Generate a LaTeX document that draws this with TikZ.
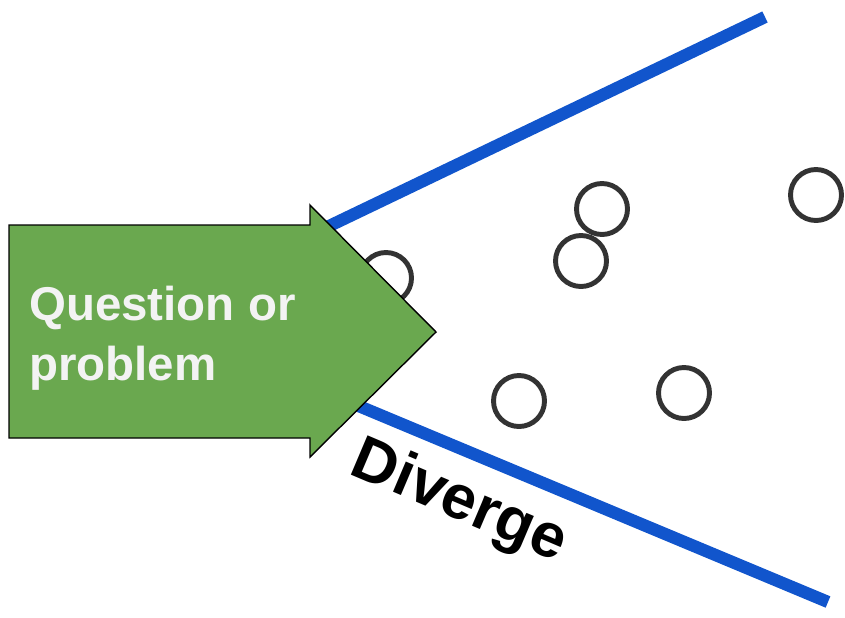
\documentclass[tikz,border=0pt]{standalone}
\usepackage{fontspec}
\setmainfont{Liberation Sans}
\usetikzlibrary{positioning}
\definecolor{ideagreen}{HTML}{6AA84F}
\definecolor{lineblue}{HTML}{1155CC}
\definecolor{ringgray}{HTML}{333333}
\definecolor{textwhite}{HTML}{F3F3F3}

\begin{document}
\begin{tikzpicture}[x=0.03cm, y=-0.03cm,
    idea/.style={circle, draw=ringgray, line width=4.2pt, minimum size=1.53cm, inner sep=0pt},
    edge/.style={lineblue, line width=10.5pt}]
  \useasboundingbox (0,0) rectangle (845,617);

  % the two diverging lines, starting behind the arrow
  \coordinate (upA) at (300,240);
  \coordinate (upB) at (765,17);
  \coordinate (loA) at (330,394);
  \coordinate (loB) at (828,602);
  \draw[edge] (upA) -- (upB);
  \draw[edge] (loA) -- (loB);

  % scattered ideas
  \node[idea] (i1) at (386,278) {};
  \node[idea] (i2) at (602,209) {};
  \node[idea] (i3) at (581,261) {};
  \node[idea] (i4) at (816,195) {};
  \node[idea] (i5) at (519,401) {};
  \node[idea] (i6) at (684,393) {};

  % big arrow
  \draw[fill=ideagreen, line width=1.2pt, line join=miter]
    (9,225) -- (310,225) -- (310,205) -- (436,332) -- (310,457) -- (310,438) -- (9,438) -- cycle;
  \node[anchor=north west, inner sep=0pt, align=left, text=textwhite,
        font=\bfseries\fontsize{40.5}{51}\selectfont] (q) at (29,286) {Question or\\problem};

  % label along the lower line
  \node[rotate=-23, font=\bfseries\fontsize{53}{60}\selectfont] (dv) at (459,503) {Diverge};
\end{tikzpicture}
\end{document}
